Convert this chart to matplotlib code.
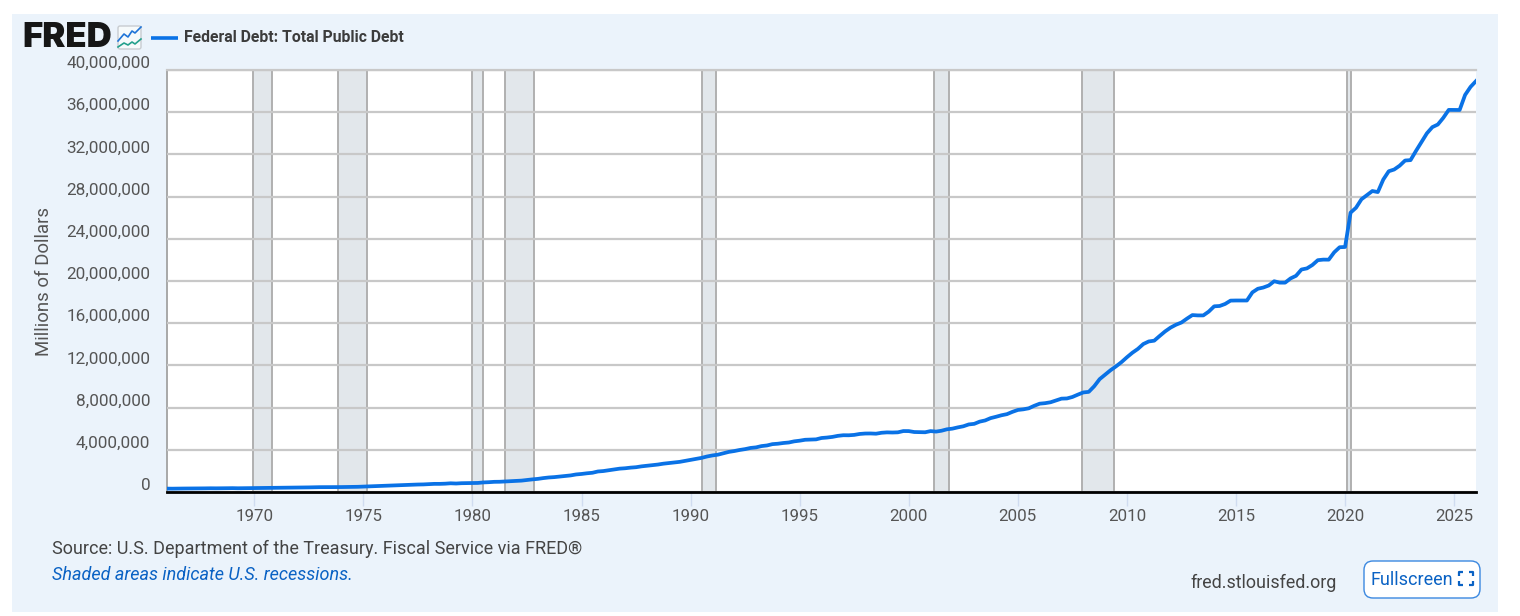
import matplotlib
matplotlib.use("Agg")
import matplotlib.pyplot as plt
from matplotlib.patches import FancyBboxPatch, Rectangle
from matplotlib.transforms import ScaledTranslation

plt.rcParams['font.family'] = ['Roboto', 'DejaVu Sans']

# quarterly values, millions of dollars, 1966 Q1 onward
debt_1960s = [321000, 316000, 325000, 329000, 331000, 323000, 334000, 345000,
              353000, 348000, 358000, 358000, 365000, 354000, 360000, 368000]
debt_1970s = [372000, 371000, 382000, 389000, 392000, 398000, 414000, 424000,
              427000, 427000, 437000, 449000, 458000, 458000, 462000, 470000,
              468000, 474000, 481000, 493000, 509000, 533000, 553000, 577000,
              599000, 620000, 635000, 654000, 680000, 685000, 709000, 719000,
              749000, 771000, 771000, 789000, 825000, 804000, 834000, 845000]
debt_1980s = [858000, 859000, 908000, 930000, 964000, 971000, 998000, 1029000,
              1061000, 1079000, 1142000, 1197000, 1244000, 1319000, 1377000, 1411000,
              1463000, 1512000, 1572000, 1663000, 1710000, 1774000, 1823000, 1945000,
              1986000, 2060000, 2125000, 2214000, 2250000, 2310000, 2350000, 2431000,
              2487000, 2547000, 2602000, 2684000, 2740000, 2799000, 2857000, 2953000]
debt_1990s = [3052000, 3143000, 3233000, 3364000, 3465000, 3538000, 3665000, 3801000,
              3881000, 3984000, 4065000, 4177000, 4230000, 4352000, 4411000, 4536000,
              4576000, 4645000, 4692000, 4801000, 4864000, 4951000, 4974000, 4989000,
              5118000, 5161000, 5224000, 5323000, 5381000, 5376000, 5413000, 5502000,
              5542000, 5548000, 5526000, 5614000, 5651000, 5639000, 5656000, 5776000]
debt_2000s = [5773000, 5685000, 5674000, 5662000, 5773000, 5726000, 5807000, 5943000,
              6006000, 6126000, 6228000, 6405000, 6460000, 6670000, 6783000, 7001000,
              7131000, 7274000, 7379000, 7596000, 7777000, 7836000, 7933000, 8170000,
              8371000, 8420000, 8507000, 8680000, 8849000, 8867000, 9007000, 9229000,
              9437000, 9492000, 10024000, 10699000, 11126000, 11545000, 11909000, 12311000]
debt_2010s = [12773000, 13201000, 13561000, 14025000, 14270000, 14343000, 14790000, 15222000,
              15582000, 15856000, 16066000, 16432000, 16771000, 16738000, 16738000, 17100000,
              17601000, 17632000, 17824000, 18141000, 18152000, 18152000, 18152000, 18922000,
              19264000, 19381000, 19573000, 19977000, 19846000, 19844000, 20244000, 20492000,
              21089000, 21195000, 21516000, 21974000, 22027000, 22023000, 22719000, 23201000]
debt_2020s = [23224000, 26477000, 26945000, 27748000, 28133000, 28529000, 28429000, 29617000,
              30401000, 30569000, 30929000, 31420000, 31458000, 32333000, 33167000, 34001000,
              34587000, 34832000, 35465000, 36219000, 36215000, 36211000, 37637000, 38400000,
              38950000]
debt = debt_1960s + debt_1970s + debt_1980s + debt_1990s + debt_2000s + debt_2010s + debt_2020s
years = [1966 + i * 0.25 for i in range(len(debt))]

# recession start and end, as decimal years
rec_start = [1969.92, 1973.83, 1980.0, 1981.5, 1990.5, 2001.17, 2007.92, 2020.08]
rec_end = [1970.83, 1975.17, 1980.5, 1982.83, 1991.17, 2001.83, 2009.42, 2020.25]

y_ticks = list(range(0, 40000001, 4000000))
x_ticks = list(range(1970, 2026, 5))

blue = '#0a72e6'
link = '#0a62c4'
W, H = 1520, 616

fig = plt.figure(figsize=(15.2, 6.16), dpi=100, facecolor='white')

# background layer in pixel coordinates
bg = fig.add_axes([0, 0, 1, 1], zorder=0)
bg.set_xlim(0, W)
bg.set_ylim(H, 0)
bg.axis('off')
bg.add_patch(Rectangle((12, 14), 1486, 598, color='#ebf3fb', lw=0))

# logo
bg.text(22, 38, 'FRED', family=['Inter', 'DejaVu Sans'], weight='black', fontsize=25,
        color='#161616', va='center', ha='left')
bg.add_patch(FancyBboxPatch((118, 26), 23, 23, boxstyle='round,pad=0,rounding_size=2',
                            fc='#f6fafb', ec='#c8ccd0', lw=1))
bg.plot([118, 124, 128, 132, 135, 141], [41, 34, 37, 31, 33, 27], color='#1f74d8', lw=1.2)
bg.plot([118, 124, 128, 132, 135, 141], [47, 43, 45, 42, 44, 39], color='#23a08c', lw=1.2)

# legend
bg.plot([151, 178], [37.5, 37.5], color=blue, lw=2.6, solid_capstyle='butt')
bg.text(184, 37.5, 'Federal Debt: Total Public Debt', fontsize=11.3, weight='bold',
        color='#3c3c3c', va='center')

bg.text(44, 281, 'Millions of Dollars', rotation=90, fontsize=13.4, color='#555555',
        ha='center', va='center')

# footer
bg.text(52, 549, 'Source: U.S. Department of the Treasury. Fiscal Service via FRED\u00ae',
        fontsize=12.95, color='#444444', va='center')
bg.text(52, 575, 'Shaded areas indicate U.S. recessions.', fontsize=12.95, style='italic',
        color=link, va='center')
bg.text(1190, 583, 'fred.stlouisfed.org', fontsize=12.9, color='#444444', va='center')

# fullscreen button
bg.add_patch(FancyBboxPatch((1364, 561), 116, 37, boxstyle='round,pad=0,rounding_size=9',
                            fc='white', ec='#3b88e0', lw=1))
bg.text(1371, 580, 'Fullscreen', fontsize=13, color=link, va='center')
for cx, cy, dx, dy in [(1459, 572, 1, 1), (1473, 572, -1, 1), (1459, 585, 1, -1), (1473, 585, -1, -1)]:
    bg.plot([cx + 4 * dx, cx, cx], [cy, cy, cy + 4 * dy], color=link, lw=1.6, solid_capstyle='butt')

# main chart
left, right, top, bottom = 167, 1476, 70, 492
ax = fig.add_axes([left / W, 1 - bottom / H, (right - left) / W, (bottom - top) / H], zorder=1)
ax.set_facecolor('white')

for s, e in zip(rec_start, rec_end):
    ax.axvspan(s, e, facecolor='#e2e7eb', edgecolor='#b0b0b0', lw=1.4, zorder=1)

ax.set_yticks(y_ticks)
ax.set_yticklabels([f'{v:,}' for v in y_ticks])
ax.set_xticks(x_ticks)
ax.grid(axis='y', color='#c8c8c8', lw=1.6, zorder=2)
ax.set_axisbelow(False)

ax.plot(years, debt, color=blue, lw=2.7, zorder=3, solid_joinstyle='round', clip_on=True)

ax.set_xlim(1966, 2026)
ax.set_ylim(0, 40000000)

ax.tick_params(axis='y', length=0, pad=12, labelsize=12.3, labelcolor='#555555')
ax.tick_params(axis='x', length=10, width=1, color='#d0dcf0', pad=2.5, labelsize=12.2,
               labelcolor='#555555')
for lab in ax.get_yticklabels():
    lab.set_verticalalignment('bottom')
    lab.set_transform(lab.get_transform() + ScaledTranslation(0, -1 / 100, fig.dpi_scale_trans))

ax.spines['right'].set_visible(False)
ax.spines['top'].set_color('#c8c8c8')
ax.spines['top'].set_linewidth(1.6)
ax.spines['left'].set_color('#a8a8a8')
ax.spines['left'].set_linewidth(1.4)
ax.spines['bottom'].set_color('black')
ax.spines['bottom'].set_linewidth(2)
ax.spines['bottom'].set_zorder(5)

fig.savefig('out.png', dpi=100, facecolor='white')
